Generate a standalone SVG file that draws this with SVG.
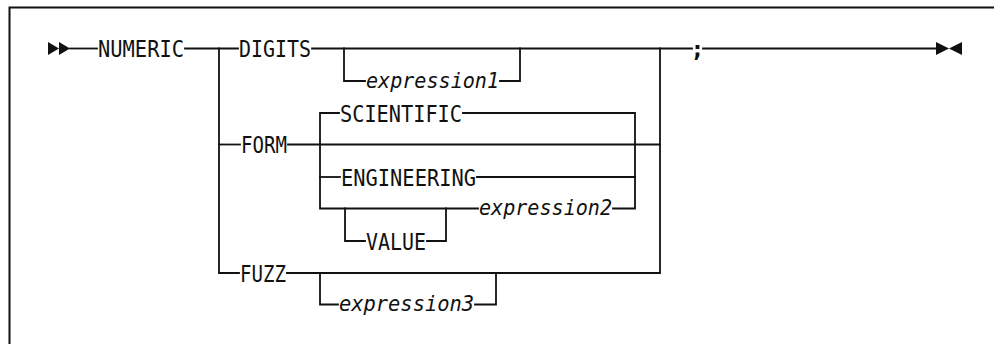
<svg xmlns="http://www.w3.org/2000/svg" width="994" height="344" viewBox="0 0 994 344">
  <style>
    .frame { fill: none; stroke: #111; stroke-width: 2; }
    .line { fill: none; stroke: #111; stroke-width: 1.8; stroke-linejoin: miter; stroke-linecap: square; }
    .kw { font-family: "DejaVu Sans Mono", "Liberation Mono", monospace; font-size: 23px; fill: #111; }
    .var { font-family: "DejaVu Sans Mono", "Liberation Mono", monospace; font-size: 22px; font-style: italic; fill: #111; }
    .mark { fill: #111; }
  </style>
  <rect width="994" height="344" fill="#fff"/>

  <!-- enclosing box, open at right and bottom -->
  <path class="frame" d="M9.5 344 V7.5 H994"/>

  <!-- connectors -->
  <g id="connectors">
    <path class="line" d="M70 48.5 H97"/>
    <path class="line" d="M185 48.5 H238"/>
    <path class="line" d="M312 48.5 H692"/>
    <path class="line" d="M703 48.5 H936"/>
    <!-- choice stack: DIGITS / FORM / FUZZ -->
    <path class="line" d="M219 48.5 V273 H239"/>
    <path class="line" d="M219 144.5 H240"/>
    <path class="line" d="M288 144.5 H660"/>
    <path class="line" d="M287 273 H660 V48.5"/>
    <!-- optional expression1 -->
    <path class="line" d="M344 48.5 V81 H365"/>
    <path class="line" d="M500 81 H520 V48.5"/>
    <!-- FORM choices -->
    <path class="line" d="M339 113 H320 V208.5 H478"/>
    <path class="line" d="M463 113 H635 V208.5 H613"/>
    <path class="line" d="M320 177 H340"/>
    <path class="line" d="M477 177 H635"/>
    <!-- optional VALUE -->
    <path class="line" d="M345 208.5 V241 H365"/>
    <path class="line" d="M427 241 H446 V208.5"/>
    <!-- optional expression3 -->
    <path class="line" d="M320 273 V304.5 H338"/>
    <path class="line" d="M475 304.5 H496 V273"/>
  </g>

  <g id="start">
    <polygon class="mark" points="48,42 59,48.5 48,55"/>
    <polygon class="mark" points="59,42 70,48.5 59,55"/>
  </g>
  <g id="end">
    <polygon class="mark" points="936,42 949,48.5 936,55"/>
    <polygon class="mark" points="962,42 949,48.5 962,55"/>
  </g>

  <g id="numeric"><text class="kw" x="98" y="57" textLength="86" lengthAdjust="spacingAndGlyphs">NUMERIC</text></g>
  <g id="digits"><text class="kw" x="239" y="57" textLength="72" lengthAdjust="spacingAndGlyphs">DIGITS</text></g>
  <g id="expression1"><text class="var" x="366" y="87.5" textLength="133" lengthAdjust="spacingAndGlyphs">expression1</text></g>
  <g id="semicolon"><text class="kw" x="697.5" y="57" text-anchor="middle" font-weight="bold">;</text></g>
  <g id="form"><text class="kw" x="241" y="153" textLength="46" lengthAdjust="spacingAndGlyphs">FORM</text></g>
  <g id="scientific"><text class="kw" x="340" y="121.5" textLength="122" lengthAdjust="spacingAndGlyphs">SCIENTIFIC</text></g>
  <g id="engineering"><text class="kw" x="341" y="185.5" textLength="135" lengthAdjust="spacingAndGlyphs">ENGINEERING</text></g>
  <g id="expression2"><text class="var" x="479" y="215" textLength="133" lengthAdjust="spacingAndGlyphs">expression2</text></g>
  <g id="value"><text class="kw" x="366" y="249.5" textLength="60" lengthAdjust="spacingAndGlyphs">VALUE</text></g>
  <g id="fuzz"><text class="kw" x="240" y="281.5" textLength="46" lengthAdjust="spacingAndGlyphs">FUZZ</text></g>
  <g id="expression3"><text class="var" x="339" y="311" textLength="135" lengthAdjust="spacingAndGlyphs">expression3</text></g>
</svg>
